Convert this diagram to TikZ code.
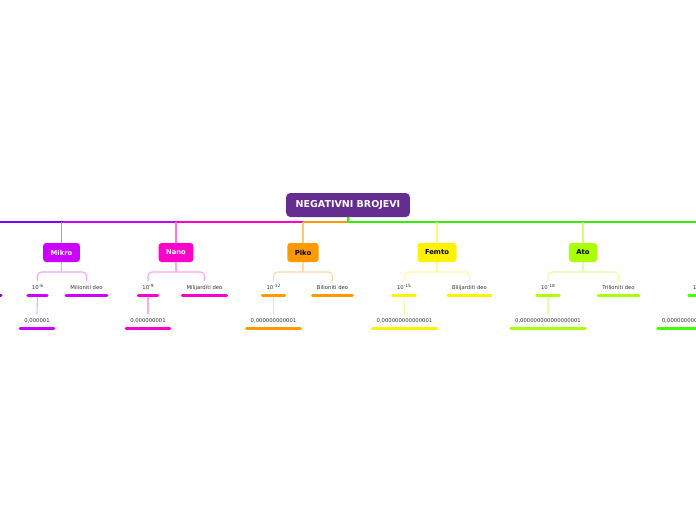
\documentclass[tikz,border=0pt]{standalone}
\usepackage{fontspec}
\setmainfont{DejaVu Sans}
\definecolor{cRoot}{HTML}{652D90}
\definecolor{cViolet}{HTML}{7F00FF}
\definecolor{cMikro}{HTML}{CC00FF}
\definecolor{cNano}{HTML}{FF00CC}
\definecolor{cPiko}{HTML}{FF9900}
\definecolor{cFemto}{HTML}{FFF200}
\definecolor{cAto}{HTML}{AAFF00}
\definecolor{cGreen}{HTML}{33EE00}
\definecolor{cZepto}{HTML}{44FF00}
\definecolor{cText}{HTML}{333333}
\newcommand{\sexp}[1]{\raisebox{2.2pt}{\fontsize{4.3}{5}\selectfont #1}}
\tikzset{
  rootbox/.style={fill=cRoot, text=white, rounded corners=4pt, font=\fontsize{9.5}{10}\selectfont\bfseries, inner xsep=9.5pt, inner ysep=0pt, minimum height=24pt},
  cbox/.style={rounded corners=3pt, font=\fontsize{6.8}{8}\selectfont\bfseries, inner xsep=7.5pt, inner ysep=0pt, minimum height=19pt},
  leaf/.style={font=\fontsize{5.3}{6}\selectfont, text=cText, text height=4pt, text depth=1.3pt, inner xsep=4pt, inner ysep=4.2pt, minimum width=18pt},
  trunk/.style={line width=1.4pt},
  drop/.style={line width=1.1pt},
  brk/.style={line width=1.1pt, rounded corners=4pt},
  ul/.style={line width=3pt, line cap=round},
}
\begin{document}
\begin{tikzpicture}[x=1pt, y=-1pt]
\useasboundingbox (0,0) rectangle (696,520);
\clip (0,0) rectangle (696,520);
\fill[white] (0,0) rectangle (696,520);

% root
\node[rootbox] (root) at (348,205) {NEGATIVNI BROJEVI};
\coordinate (hub) at (348,222);
\coordinate (offL) at (-10,222);
\coordinate (offR) at (706,222);

% children boxes
\node[cbox, fill=cMikro, text=white] (mikro) at (61.5,252.5) {Mikro};
\node[cbox, fill=cNano, text=white] (nano) at (176,252.5) {Nano};
\node[cbox, fill=cPiko, text=black] (piko) at (303,252.5) {Piko};
\node[cbox, fill=cFemto, text=black] (femto) at (437,252.5) {Femto};
\node[cbox, fill=cAto, text=black] (ato) at (583,252.5) {Ato};

% bracket coordinates
\coordinate (mb) at (61.5,272);
\coordinate (nb) at (176,272);
\coordinate (pb) at (303,272);
\coordinate (fb) at (437,272);
\coordinate (ab) at (583,272);

% leaves
\node[leaf] (m1) at (37.5,288.5) {10\sexp{-6}};
\node[leaf] (m2) at (86.5,288.5) {Milioniti deo};
\node[leaf] (m3) at (37,321) {0,000001};
\node[leaf] (n1) at (148,288.5) {10\sexp{-9}};
\node[leaf] (n2) at (204.5,288.5) {Milijarditi deo};
\node[leaf] (n3) at (148,321) {0,000000001};
\node[leaf] (p1) at (273.5,288.5) {10\sexp{-12}};
\node[leaf] (p2) at (332.5,288.5) {Bilioniti deo};
\node[leaf] (p3) at (273.5,321) {0,000000000001};
\node[leaf] (f1) at (404,288.5) {10\sexp{-15}};
\node[leaf] (f2) at (469.5,288.5) {Bilijarditi deo};
\node[leaf] (f3) at (404.5,321) {0,000000000000001};
\node[leaf] (a1) at (548,288.5) {10\sexp{-18}};
\node[leaf] (a2) at (618.5,288.5) {Trilioniti deo};
\node[leaf] (a3) at (548,321) {0,000000000000000001};
\node[leaf] (z1) at (700,288.5) {10\sexp{-21}};
\node[leaf] (z3) at (700,321) {0,000000000000000000001};
\coordinate (lx1) at (-10,295.5);
\coordinate (lx2) at (1,295.5);

% trunk
\draw[trunk, cViolet] (hub) -- (offL);
\draw[trunk, cMikro] (hub) -- (mikro |- hub);
\draw[trunk, cNano] (hub) -- (nano |- hub);
\draw[trunk, cPiko] (hub) -- (piko |- hub);
\draw[trunk, cGreen] (hub) -- (offR);
\draw[trunk, cGreen] (root.south) -- (hub);

% drops to child boxes
\draw[drop, cMikro!55] (mikro |- hub) -- (mikro.north);
\draw[drop, cNano!55] (nano |- hub) -- (nano.north);
\draw[drop, cPiko!55] (piko |- hub) -- (piko.north);
\draw[drop, cFemto!55] (femto |- hub) -- (femto.north);
\draw[drop, cAto!55] (ato |- hub) -- (ato.north);

% brackets
\foreach \b/\bb/\l/\r/\c in {mikro/mb/m1/m2/cMikro, nano/nb/n1/n2/cNano, piko/pb/p1/p2/cPiko, femto/fb/f1/f2/cFemto, ato/ab/a1/a2/cAto}{
  \draw[drop, \c!35] (\b.south) -- (\bb);
  \draw[brk, \c!35] (\l.north) |- (\bb) -| (\r.north);
}
% level 3 connectors
\draw[drop, cMikro!35] (m1.south) -- (m3.north);
\draw[drop, cNano!35] (n1.south) -- (n3.north);
\draw[drop, cPiko!35] (p1.south) -- (p3.north);
\draw[drop, cFemto!35] (f1.south) -- (f3.north);
\draw[drop, cAto!35] (a1.south) -- (a3.north);
\draw[drop, cZepto!35] (z1.south) -- (z3.north);

% underlines
\foreach \n/\c in {m1/cMikro, m2/cMikro, m3/cMikro, n1/cNano, n2/cNano, n3/cNano, p1/cPiko, p2/cPiko, p3/cPiko, f1/cFemto, f2/cFemto, f3/cFemto, a1/cAto, a2/cAto, a3/cAto, z1/cZepto, z3/cZepto}{
  \draw[ul, \c] (\n.south west) -- (\n.south east);
}
\draw[ul, cViolet] (lx1) -- (lx2);
\end{tikzpicture}
\end{document}
